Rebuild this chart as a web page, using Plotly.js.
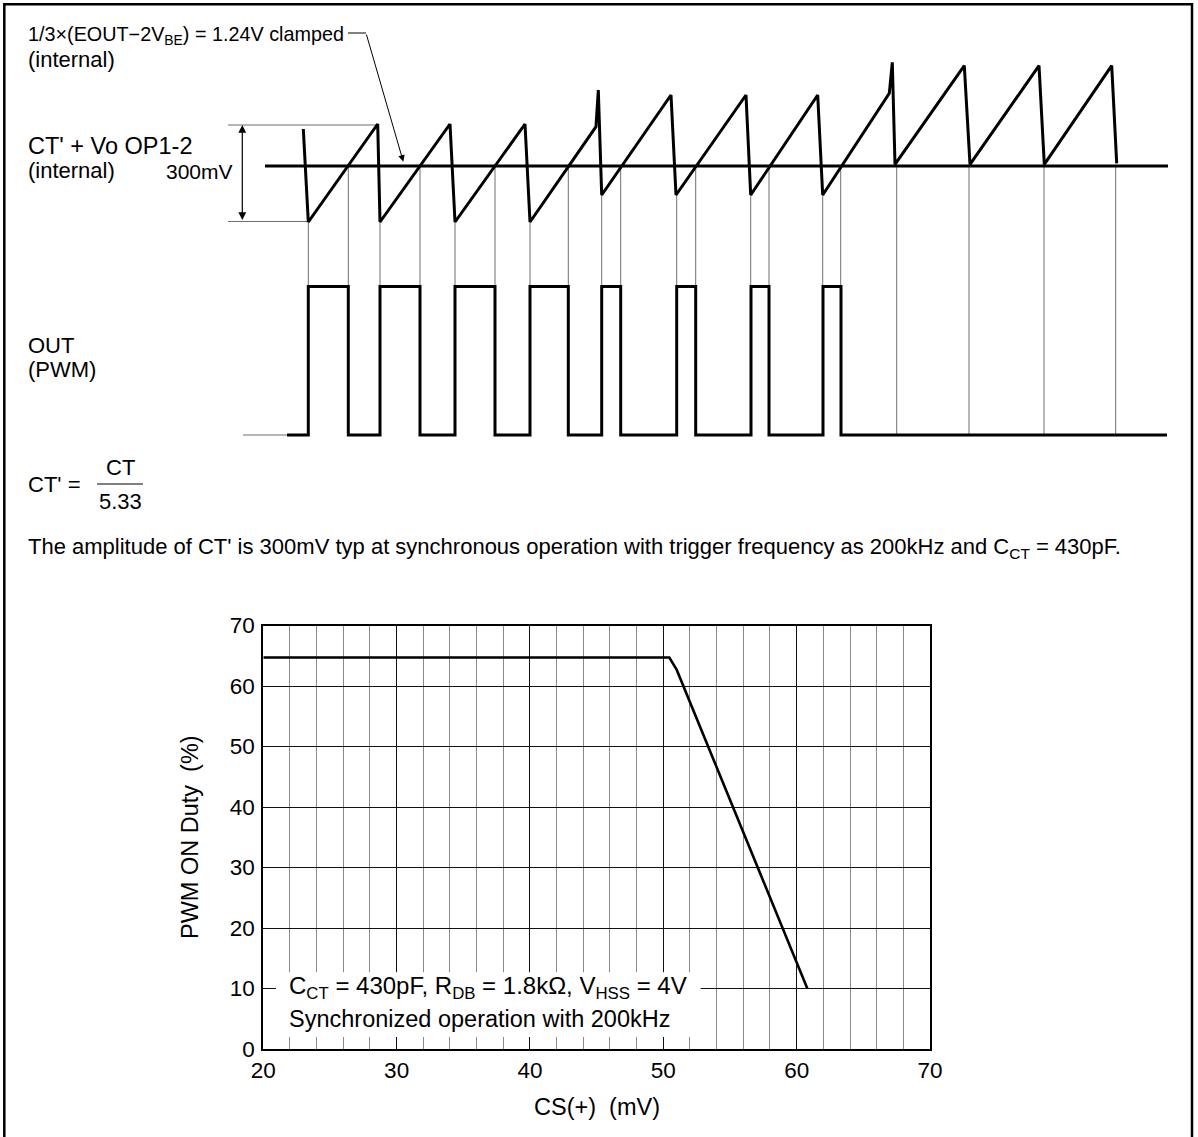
<!DOCTYPE html>
<html>
<head>
<meta charset="utf-8">
<script src="https://cdn.plot.ly/plotly-3.0.1.min.js"></script>
<style>html,body{margin:0;padding:0;background:#fff;}#chart{width:1198px;height:1137px;}</style>
</head>
<body>
<div id="chart"></div>
<script>
// ---------- Chart data: PWM ON duty vs CS(+) ----------
const csMilliVolt = [20, 50.45, 51.0, 60.8];
const pwmDuty = [64.7, 64.7, 62.7, 10];
const xTickVals = [20, 30, 40, 50, 60, 70];
const yTickVals = [0, 10, 20, 30, 40, 50, 60, 70];

// ---------- Timing diagram data (diagram units: t across, level down) ----------
// CT' + Vo OP1-2 sawtooth
const ctTime  = [303.3, 308.3, 377.7, 380, 450, 455, 525, 530, 596, 598.3, 601.7, 671, 676, 746, 750.7, 817.7, 822.7, 889.3, 892.3, 895, 964.3, 970, 1039, 1044.3, 1111.7, 1116.7];
const ctLevel = [129, 222, 124, 222, 124, 222, 124, 222, 126.7, 90, 195, 95, 195, 95, 195, 95, 195, 93.3, 62.3, 164.3, 65.7, 164.3, 65.7, 164.3, 65.7, 163.3];
// clamp / comparison level
const clampTime = [265, 1168];
const clampLevel = 166;
// OUT (PWM) edges and states
const outTime  = [287, 308.3, 348.3, 380, 420, 455, 495, 530, 568.3, 601.7, 620.7, 676.7, 695.7, 751, 769, 823, 841, 1167];
const outState = [0, 1, 0, 1, 0, 1, 0, 1, 0, 1, 0, 1, 0, 1, 0, 1, 0, 0];
const outHighLevel = 286.5, outLowLevel = 435;
const outLeadTime = [243, 287];
// projection lines from the CT' waveform down to OUT
const projTime = [308.3, 348.3, 380, 420, 455, 495, 530, 568.3, 601.7, 620.7, 676.7, 695.7, 750.7, 769, 822.7, 840.7, 896.7, 969, 1044, 1115.7];
const projTop  = [222, 166, 222, 166, 222, 166, 222, 166, 195, 166, 195, 166, 195, 166, 195, 166, 166, 166, 166, 166];
// amplitude (300mV) reference lines
const ampTopTime = [228, 377], ampTopLevel = 125;
const ampBotTime = [228, 307], ampBotLevel = 221.5;
const ampArrowTime = 242.3;
// clamp pointer
const pointerTime = [348, 366], pointerLevel = 33;
const pointerTip = [403.3, 161.7];

const FONT = 'Liberation Sans, Arial, Helvetica, sans-serif';
const traces = [];
function dLine(xs, ys, w, c) {
  traces.push({x: xs, y: ys, xaxis: 'x2', yaxis: 'y2', mode: 'lines',
    line: {width: w, color: c}, hoverinfo: 'skip', showlegend: false});
}

// main chart curve
traces.push({x: csMilliVolt, y: pwmDuty, xaxis: 'x', yaxis: 'y', mode: 'lines',
  line: {width: 2.6, color: '#000'}, hoverinfo: 'skip', showlegend: false});

// projection lines
const px = [], py = [];
projTime.forEach((t, i) => { px.push(t, t, null); py.push(projTop[i], outLowLevel, null); });
dLine(px, py, 1, '#6f6f6f');
// amplitude reference lines
dLine(ampTopTime, ampTopTime.map(() => ampTopLevel), 1, '#6f6f6f');
dLine(ampBotTime, ampBotTime.map(() => ampBotLevel), 1, '#6f6f6f');
// OUT lead line (thin)
dLine(outLeadTime, outLeadTime.map(() => outLowLevel), 1, '#6f6f6f');
// clamp level
dLine(clampTime, clampTime.map(() => clampLevel), 3, '#000');
// CT' waveform
dLine(ctTime, ctLevel, 3, '#000');
// OUT waveform
traces.push({x: outTime, y: outState.map(s => s ? outHighLevel : outLowLevel), xaxis: 'x2', yaxis: 'y2',
  mode: 'lines', line: {width: 3, color: '#000', shape: 'hv'}, hoverinfo: 'skip', showlegend: false});
// pointer horizontal segment
dLine(pointerTime, pointerTime.map(() => pointerLevel), 1, '#000');

const W = 1198, H = 1137;
const pxX = v => v / W, pxY = v => 1 - v / H;

function dText(text, x, y, size, opts) {
  return Object.assign({text: text, x: x, y: y, xref: 'x2', yref: 'y2', showarrow: false,
    xanchor: 'left', yanchor: 'middle', font: {family: FONT, size: size, color: '#000'}}, opts || {});
}

const annotations = [
  dText('1/3\u00d7(EOUT\u22122V<sub>BE</sub>) = 1.24V clamped', 26, 35, 19.8),
  dText('(internal)', 26, 59, 22),
  dText("CT' + Vo OP1-2", 26, 146, 23.5),
  dText('(internal)', 26, 170, 22),
  dText('300mV', 235, 171, 21, {xanchor: 'right'}),
  dText('OUT', 26, 345, 22),
  dText('(PWM)', 26, 369, 22),
  dText("CT' =", 26, 484, 22),
  dText('CT', 120, 467, 22, {xanchor: 'center'}),
  dText('5.33', 120, 501, 22, {xanchor: 'center'}),
  dText("The amplitude of CT' is 300mV typ at synchronous operation with trigger frequency as 200kHz and C<sub>CT</sub> = 430pF.", 26, 548, 22),
  // clamp pointer arrow
  {x: pointerTip[0], y: pointerTip[1], xref: 'x2', yref: 'y2', ax: pointerTime[1], ay: pointerLevel,
   axref: 'x2', ayref: 'y2', text: '', showarrow: true, arrowhead: 2, arrowsize: 1.3, arrowwidth: 1, arrowcolor: '#000', standoff: 0},
  // 300mV double arrow
  {x: ampArrowTime, y: ampTopLevel, xref: 'x2', yref: 'y2', ax: ampArrowTime, ay: ampBotLevel,
   axref: 'x2', ayref: 'y2', text: '', showarrow: true, arrowhead: 2, startarrowhead: 2, arrowside: 'end+start',
   arrowsize: 1.3, startarrowsize: 1.3, arrowwidth: 1.2, arrowcolor: '#000', standoff: 0, startstandoff: 0},
  // chart notes
  {text: 'C<sub>CT</sub> = 430pF, R<sub>DB</sub> = 1.8k\u03a9, V<sub>HSS</sub> = 4V', x: 21.75, y: 10.2, xref: 'x', yref: 'y',
   showarrow: false, xanchor: 'left', yanchor: 'middle', font: {family: FONT, size: 24, color: '#000'}},
  {text: 'Synchronized operation with 200kHz', x: 21.75, y: 4.9, xref: 'x', yref: 'y',
   showarrow: false, xanchor: 'left', yanchor: 'middle', font: {family: FONT, size: 23.5, color: '#000'}},
  // axis titles
  {text: 'PWM ON Duty\u00a0\u00a0(%)', x: pxX(190), y: pxY(837), xref: 'paper', yref: 'paper', showarrow: false,
   textangle: -90, xanchor: 'center', yanchor: 'middle', font: {family: FONT, size: 23.5, color: '#000'}},
  {text: 'CS(+)\u00a0\u00a0(mV)', x: pxX(597), y: pxY(1107), xref: 'paper', yref: 'paper', showarrow: false,
   xanchor: 'center', yanchor: 'middle', font: {family: FONT, size: 23.5, color: '#000'}}
];

const shapes = [
  // outer frame (bottom edge off page)
  {type: 'rect', xref: 'paper', yref: 'paper', x0: pxX(4.3), x1: pxX(1192), y0: -0.05, y1: pxY(4.3),
   line: {color: '#000', width: 2.5}, fillcolor: 'rgba(0,0,0,0)', layer: 'above'},
  // fraction bar
  {type: 'line', xref: 'x2', yref: 'y2', x0: 97, x1: 143, y0: 484, y1: 484, line: {color: '#000', width: 1}},
  // white box behind chart notes
  {type: 'rect', xref: 'x', yref: 'y', x0: 20.95, x1: 52.8, y0: 2.0, y1: 12.7,
   line: {width: 0}, fillcolor: '#fff', layer: 'above'}
];

const layout = {
  width: W, height: H,
  margin: {l: 0, r: 0, t: 0, b: 0},
  paper_bgcolor: '#fff', plot_bgcolor: 'rgba(0,0,0,0)',
  font: {family: FONT, size: 22, color: '#000'},
  showlegend: false,
  xaxis: {domain: [pxX(263.3), pxX(930)], range: [20, 70], tickvals: xTickVals, ticks: '',
    showgrid: true, gridcolor: '#111', gridwidth: 1,
    minor: {dtick: 2, showgrid: true, gridcolor: '#8a8a8a', gridwidth: 1, ticks: ''},
    showline: true, mirror: true, linecolor: '#000', linewidth: 2, zeroline: false,
    tickfont: {family: FONT, size: 22.5, color: '#000'}, ticklabelstandoff: 0, automargin: false, fixedrange: true},
  yaxis: {domain: [pxY(1049), pxY(625.5)], range: [0, 70], tickvals: yTickVals, ticks: '',
    showgrid: true, gridcolor: '#111', gridwidth: 1,
    showline: true, mirror: true, linecolor: '#000', linewidth: 2, zeroline: false,
    tickfont: {family: FONT, size: 22.5, color: '#000'}, ticklabelstandoff: 2, automargin: false, fixedrange: true},
  xaxis2: {domain: [0, 1], range: [0, W], anchor: 'y2', visible: false, fixedrange: true},
  yaxis2: {domain: [0, 1], range: [H, 0], anchor: 'x2', visible: false, fixedrange: true},
  annotations: annotations,
  shapes: shapes
};

Plotly.newPlot('chart', traces, layout, {displayModeBar: false, staticPlot: true});
</script>
</body>
</html>
